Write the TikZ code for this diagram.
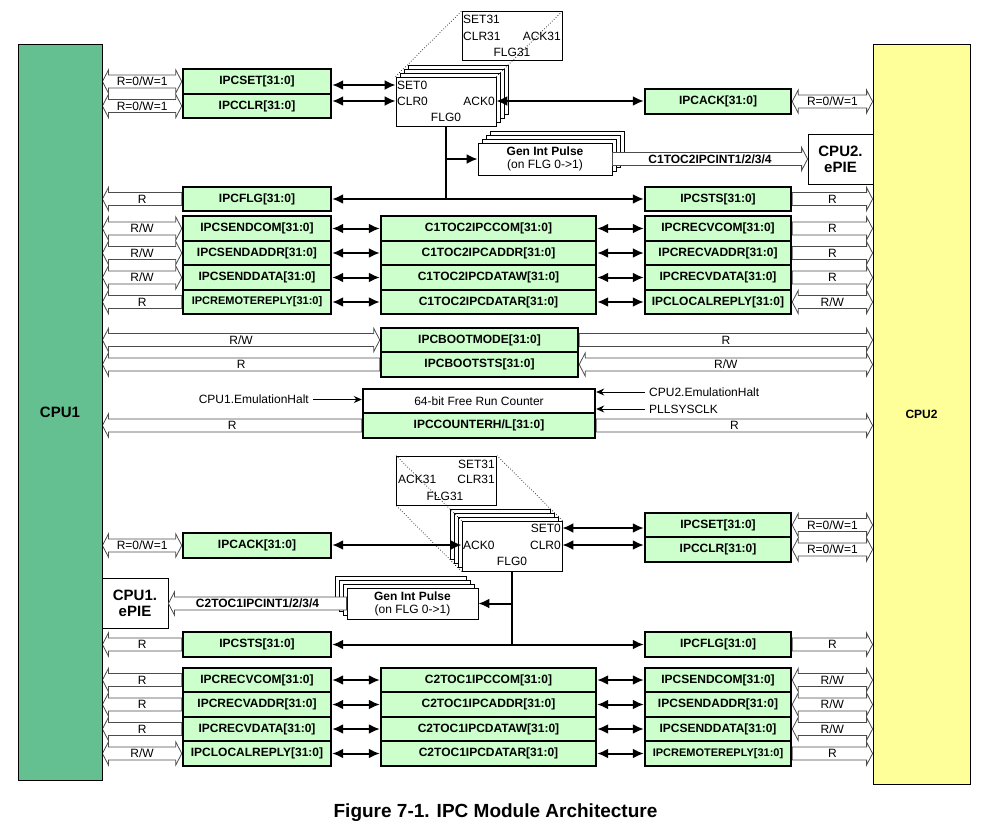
\documentclass[tikz,border=0pt]{standalone}
\usepackage{fontspec}
\setmainfont{Liberation Sans}
\usetikzlibrary{arrows.meta,calc}

\definecolor{regfill}{RGB}{204,255,204}
\definecolor{cpuonefill}{RGB}{100,192,145}
\definecolor{cputwofill}{RGB}{255,255,153}

\pgfdeclarelayer{background}
\pgfsetlayers{background,main}

\tikzset{
  reg/.style={draw, line width=2.4pt, fill=regfill, inner sep=0pt, minimum height=24.5pt, font=\fontsize{12}{14}\selectfont\bfseries},
  regL/.style={reg, minimum width=148pt},
  regM/.style={reg, minimum width=215pt},
  regR/.style={reg, minimum width=146pt},
  flagbox/.style={draw, line width=0.8pt, fill=white, minimum width=100pt, minimum height=49pt, inner sep=0pt},
  genbox/.style={draw, line width=0.8pt, fill=white, inner sep=0pt, align=center, font=\fontsize{12}{13}\selectfont},
  stack/.style={draw, line width=0.8pt, fill=white},
  pin/.style={inner sep=1pt, font=\fontsize{12}{14}\selectfont},
  tag/.style={inner sep=0pt, font=\fontsize{12}{14}\selectfont},
  hollow/.style={draw=black!70, line width=0.8pt, fill=white},
  bus/.style={line width=2pt, >={Latex[length=11pt,width=10pt]}},
  feed/.style={line width=0.8pt, -{Stealth[length=8pt,width=7pt]}},
}

% hollow bus arrows: tail, tip, label
\newcommand{\hollowone}[3]{%
  \draw[hollow] let \p1=#1, \p2=#2, \p3=($#2!6pt!#1$) in
    (\x1,\y1+6.5pt) -- (\x3,\y1+6.5pt) -- (\x3,\y1+11.5pt) -- (\x2,\y1)
    -- (\x3,\y1-11.5pt) -- (\x3,\y1-6.5pt) -- (\x1,\y1-6.5pt) -- cycle;
  \path #1 -- #2 node[midway,tag] {#3};}
\newcommand{\hollowtwo}[3]{%
  \draw[hollow] let \p1=#1, \p2=#2, \p3=($#2!6pt!#1$), \p4=($#1!6pt!#2$) in
    (\x1,\y1) -- (\x4,\y1+11.5pt) -- (\x4,\y1+6.5pt) -- (\x3,\y1+6.5pt) -- (\x3,\y1+11.5pt) -- (\x2,\y1)
    -- (\x3,\y1-11.5pt) -- (\x3,\y1-6.5pt) -- (\x4,\y1-6.5pt) -- (\x4,\y1-11.5pt) -- cycle;
  \path #1 -- #2 node[midway,tag] {#3};}

\begin{document}
\begin{tikzpicture}[x=1pt,y=-1pt]
\useasboundingbox (0,0) rectangle (1002,828);

% processors
\node[draw, line width=0.8pt, fill=cpuonefill, minimum width=84pt, minimum height=736pt, font=\fontsize{15}{17}\selectfont\bfseries] at (60,412) (cpu1) {CPU1};
\node[draw, line width=0.8pt, fill=cputwofill, minimum width=97pt, minimum height=740pt, font=\fontsize{12}{14}\selectfont\bfseries] at (921.5,414) (cpu2) {CPU2};

% upper half: CPU1 to CPU2
\node[regL] at (257,81.5) (setL) {IPCSET[31:0]};
\node[regL] at (257,106) (clrL) {IPCCLR[31:0]};
\node[regR] at (718,101.5) (ackR) {IPCACK[31:0]};
\node[regL] at (257,199) (flgL) {IPCFLG[31:0]};
\node[regR] at (718,199) (stsR) {IPCSTS[31:0]};

\node[regL] at (257,228.5) (sendcomA) {IPCSENDCOM[31:0]};
\node[regL] at (257,253) (sendaddrA) {IPCSENDADDR[31:0]};
\node[regL] at (257,277.5) (senddataA) {IPCSENDDATA[31:0]};
\node[regL, font=\fontsize{11}{13}\selectfont\bfseries] at (257,302) (remoteA) {IPCREMOTEREPLY[31:0]};
\node[regM] at (488.5,228.5) (c1com) {C1TOC2IPCCOM[31:0]};
\node[regM] at (488.5,253) (c1addr) {C1TOC2IPCADDR[31:0]};
\node[regM] at (488.5,277.5) (c1dataw) {C1TOC2IPCDATAW[31:0]};
\node[regM] at (488.5,302) (c1datar) {C1TOC2IPCDATAR[31:0]};
\node[regR] at (718,228.5) (recvcomA) {IPCRECVCOM[31:0]};
\node[regR] at (718,253) (recvaddrA) {IPCRECVADDR[31:0]};
\node[regR] at (718,277.5) (recvdataA) {IPCRECVDATA[31:0]};
\node[regR] at (718,302) (localA) {IPCLOCALREPLY[31:0]};

% flag registers, upper
\node[flagbox] at (512,36) (upper31) {};
\node[pin, anchor=west] at (462,19) (s31a) {SET31};
\node[pin, anchor=west] at (462,36) (c31a) {CLR31};
\node[pin, anchor=east] at (562,36) (a31a) {ACK31};
\node[pin] at (512,52) (f31a) {FLG31};
\draw[stack] (408,65) rectangle (508,114);
\draw[stack] (404,69) rectangle (504,118);
\draw[stack] (400,73) rectangle (500,122);
\node[flagbox] at (446,101.5) (flag1) {};
\node[pin, anchor=west] at (396,85) (set0a) {SET0};
\node[pin, anchor=west] at (396,101) (clr0a) {CLR0};
\node[pin, anchor=east] at (496,101) (ack0a) {ACK0};
\node[pin] at (446,117) (flg0a) {FLG0};
\draw[dotted, line width=0.7pt] (flag1.north west) -- (upper31.north west);
\draw[dotted, line width=0.7pt] (flag1.north east) -- (upper31.north east);

\draw[stack] (490,131) rectangle (624,163);
\draw[stack] (486,135) rectangle (620,167);
\draw[stack] (482,139) rectangle (616,171);
\node[genbox, minimum width=134pt, minimum height=32pt] at (545,159) (gen1) {\textbf{Gen Int Pulse}\\(on FLG 0->1)};
\node[draw, line width=0.8pt, fill=white, minimum width=65pt, minimum height=50pt, align=center, inner sep=0pt, font=\fontsize{15}{16}\selectfont\bfseries] at (840.5,159) (epie2) {CPU2.\\ePIE};
\hollowone{(gen1.east)}{(epie2.west)}{\bfseries C1TOC2IPCINT1/2/3/4}

% boot and counter registers
\node[reg, minimum width=197pt] at (479.5,340) (bootmode) {IPCBOOTMODE[31:0]};
\node[reg, minimum width=197pt] at (479.5,364.5) (bootsts) {IPCBOOTSTS[31:0]};
\node[draw, line width=2.4pt, fill=white, minimum width=232pt, minimum height=24.5pt, font=\fontsize{12}{14}\selectfont] at (479,401) (counter) {64-bit Free Run Counter};
\node[reg, minimum width=232pt] at (479,425.5) (counthl) {IPCCOUNTERH/L[31:0]};
\node[pin, anchor=east, inner xsep=4pt] at (313,399.5) (halt1) {CPU1.EmulationHalt};
\node[pin, anchor=west, inner xsep=4pt] at (645,392) (halt2) {CPU2.EmulationHalt};
\node[pin, anchor=west, inner xsep=4pt] at (645,409) (pll) {PLLSYSCLK};

% lower half: CPU2 to CPU1
\node[regL] at (257,545.5) (ackL) {IPCACK[31:0]};
\node[regR] at (718,525) (setR) {IPCSET[31:0]};
\node[regR] at (718,549.5) (clrR) {IPCCLR[31:0]};
\node[regL] at (257,644.5) (stsL) {IPCSTS[31:0]};
\node[regR] at (718,644.5) (flgR) {IPCFLG[31:0]};

\node[regL] at (257,680) (recvcomB) {IPCRECVCOM[31:0]};
\node[regL] at (257,704.5) (recvaddrB) {IPCRECVADDR[31:0]};
\node[regL] at (257,729) (recvdataB) {IPCRECVDATA[31:0]};
\node[regL] at (257,753.5) (localB) {IPCLOCALREPLY[31:0]};
\node[regM] at (488.5,680) (c2com) {C2TOC1IPCCOM[31:0]};
\node[regM] at (488.5,704.5) (c2addr) {C2TOC1IPCADDR[31:0]};
\node[regM] at (488.5,729) (c2dataw) {C2TOC1IPCDATAW[31:0]};
\node[regM] at (488.5,753.5) (c2datar) {C2TOC1IPCDATAR[31:0]};
\node[regR] at (718,680) (sendcomB) {IPCSENDCOM[31:0]};
\node[regR] at (718,704.5) (sendaddrB) {IPCSENDADDR[31:0]};
\node[regR] at (718,729) (senddataB) {IPCSENDDATA[31:0]};
\node[regR, font=\fontsize{11}{13}\selectfont\bfseries] at (718,753.5) (remoteB) {IPCREMOTEREPLY[31:0]};

% flag registers, lower
\node[flagbox] at (446.5,480.5) (lower31) {};
\node[pin, anchor=east] at (496,464) (s31b) {SET31};
\node[pin, anchor=west] at (397,479) (a31b) {ACK31};
\node[pin, anchor=east] at (496,479) (c31b) {CLR31};
\node[pin] at (445,496) (f31b) {FLG31};
\draw[stack] (450,509) rectangle (550,559);
\draw[stack] (454,513) rectangle (554,563);
\draw[stack] (458,517) rectangle (558,567);
\node[flagbox, minimum height=50pt] at (512,546) (flag2) {};
\node[pin, anchor=east] at (562,528) (set0b) {SET0};
\node[pin, anchor=east] at (562,545) (clr0b) {CLR0};
\node[pin, anchor=west] at (462,545) (ack0b) {ACK0};
\node[pin] at (512,561) (flg0b) {FLG0};
\draw[dotted, line width=0.7pt] (flag2.north west) -- (lower31.north west);
\draw[dotted, line width=0.7pt] (flag2.south west) -- (lower31.south west);
\draw[dotted, line width=0.7pt] (flag2.north east) -- (lower31.north east);

\draw[stack] (335,576) rectangle (466,607);
\draw[stack] (339,580) rectangle (470,611);
\draw[stack] (343,584) rectangle (474,615);
\node[genbox, minimum width=131pt, minimum height=31pt] at (412.5,603.5) (gen2) {\textbf{Gen Int Pulse}\\(on FLG 0->1)};
\node[draw, line width=0.8pt, fill=white, minimum width=66pt, minimum height=50pt, align=center, inner sep=0pt, font=\fontsize{15}{16}\selectfont\bfseries] at (135,603) (epie1) {CPU1.\\ePIE};
\hollowone{(gen2.west)}{(epie1.east |- gen2.west)}{\bfseries C2TOC1IPCINT1/2/3/4}

% hollow buses to the CPUs
\begin{pgfonlayer}{background}
\hollowtwo{(setL.west)}{(cpu1.east |- setL.west)}{R=0/W=1}
\hollowtwo{(clrL.west)}{(cpu1.east |- clrL.west)}{R=0/W=1}
\hollowtwo{(ackR.east)}{(cpu2.west |- ackR.east)}{R=0/W=1}
\hollowone{(flgL.west)}{(cpu1.east |- flgL.west)}{R}
\hollowone{(stsR.east)}{(cpu2.west |- stsR.east)}{R}
\hollowtwo{(sendcomA.west)}{(cpu1.east |- sendcomA.west)}{R/W}
\hollowtwo{(sendaddrA.west)}{(cpu1.east |- sendaddrA.west)}{R/W}
\hollowtwo{(senddataA.west)}{(cpu1.east |- senddataA.west)}{R/W}
\hollowone{(remoteA.west)}{(cpu1.east |- remoteA.west)}{R}
\hollowone{(recvcomA.east)}{(cpu2.west |- recvcomA.east)}{R}
\hollowone{(recvaddrA.east)}{(cpu2.west |- recvaddrA.east)}{R}
\hollowone{(recvdataA.east)}{(cpu2.west |- recvdataA.east)}{R}
\hollowtwo{(localA.east)}{(cpu2.west |- localA.east)}{R/W}
\hollowtwo{(bootmode.west)}{(cpu1.east |- bootmode.west)}{R/W}
\hollowone{(bootmode.east)}{(cpu2.west |- bootmode.east)}{R}
\hollowone{(bootsts.west)}{(cpu1.east |- bootsts.west)}{R}
\hollowtwo{(bootsts.east)}{(cpu2.west |- bootsts.east)}{R/W}
\hollowone{(counthl.west)}{(cpu1.east |- counthl.west)}{R}
\hollowone{(counthl.east)}{(cpu2.west |- counthl.east)}{R}
\hollowtwo{(ackL.west)}{(cpu1.east |- ackL.west)}{R=0/W=1}
\hollowtwo{(setR.east)}{(cpu2.west |- setR.east)}{R=0/W=1}
\hollowtwo{(clrR.east)}{(cpu2.west |- clrR.east)}{R=0/W=1}
\hollowone{(stsL.west)}{(cpu1.east |- stsL.west)}{R}
\hollowone{(flgR.east)}{(cpu2.west |- flgR.east)}{R}
\hollowone{(recvcomB.west)}{(cpu1.east |- recvcomB.west)}{R}
\hollowone{(recvaddrB.west)}{(cpu1.east |- recvaddrB.west)}{R}
\hollowone{(recvdataB.west)}{(cpu1.east |- recvdataB.west)}{R}
\hollowtwo{(localB.west)}{(cpu1.east |- localB.west)}{R/W}
\hollowtwo{(sendcomB.east)}{(cpu2.west |- sendcomB.east)}{R/W}
\hollowtwo{(sendaddrB.east)}{(cpu2.west |- sendaddrB.east)}{R/W}
\hollowtwo{(senddataB.east)}{(cpu2.west |- senddataB.east)}{R/W}
\hollowone{(remoteB.east)}{(cpu2.west |- remoteB.east)}{R}
\end{pgfonlayer}

% black connectors
\draw[bus,<->] (setL.east |- set0a) -- (flag1.west |- set0a);
\draw[bus,<->] (clrL.east |- clr0a) -- (flag1.west |- clr0a);
\draw[bus,<->] (flag1.east |- ack0a) -- (ackR.west |- ack0a);
\draw[bus] (flag1.south) -- (flag1.south |- flgL.east);
\draw[bus,<->] (flgL.east) -- (stsR.west);
\coordinate (tap1) at (flag1.south |- gen1.west);
\draw[bus,->] (tap1) -- (gen1.west);
\draw[bus,<->] (sendcomA) -- (c1com);
\draw[bus,<->] (sendaddrA) -- (c1addr);
\draw[bus,<->] (senddataA) -- (c1dataw);
\draw[bus,<->] (remoteA) -- (c1datar);
\draw[bus,<->] (c1com) -- (recvcomA);
\draw[bus,<->] (c1addr) -- (recvaddrA);
\draw[bus,<->] (c1dataw) -- (recvdataA);
\draw[bus,<->] (c1datar) -- (localA);
\draw[feed] (halt1.east) -- (counter.west |- halt1.east);
\draw[feed] (halt2.west) -- (counter.east |- halt2.west);
\draw[feed] (pll.west) -- (counter.east |- pll.west);
\draw[bus,<->] (flag2.east |- set0b) -- (setR.west |- set0b);
\draw[bus,<->] (flag2.east |- clr0b) -- (clrR.west |- clr0b);
\draw[bus,<->] (ackL.east |- ack0b) -- (flag2.west |- ack0b);
\draw[bus] (flag2.south) -- (flag2.south |- stsL.east);
\draw[bus,<->] (stsL.east) -- (flgR.west);
\coordinate (tap2) at (flag2.south |- gen2.east);
\draw[bus,->] (tap2) -- (gen2.east);
\draw[bus,<->] (recvcomB) -- (c2com);
\draw[bus,<->] (recvaddrB) -- (c2addr);
\draw[bus,<->] (recvdataB) -- (c2dataw);
\draw[bus,<->] (localB) -- (c2datar);
\draw[bus,<->] (c2com) -- (sendcomB);
\draw[bus,<->] (c2addr) -- (sendaddrB);
\draw[bus,<->] (c2dataw) -- (senddataB);
\draw[bus,<->] (c2datar) -- (remoteB);

\node[anchor=base, font=\fontsize{19}{22}\selectfont\bfseries] at (495.5,817) (caption) {Figure 7-1. IPC Module Architecture};
\end{tikzpicture}
\end{document}
